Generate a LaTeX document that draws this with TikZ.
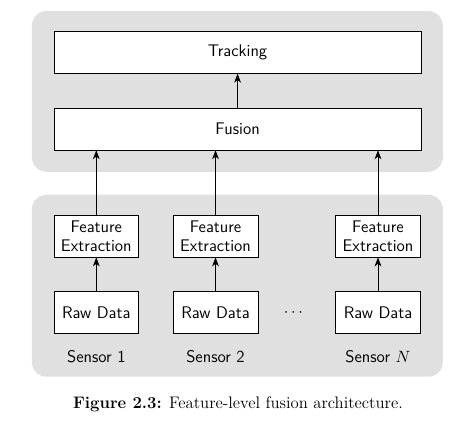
\documentclass[tikz,border=0pt]{standalone}
\usepackage{amsmath}
\usetikzlibrary{arrows.meta, positioning, calc}

\begin{document}
\begin{tikzpicture}[font=\sffamily\fontsize{11.3}{13}\selectfont, node distance=0.8cm,
    block/.style={draw, fill=white, minimum height=0.99cm, inner sep=2pt, align=center},
    wideblock/.style={block, minimum width=8.65cm},
    smallblock/.style={block, minimum width=2cm},
    panel/.style={fill=black!12, rounded corners=0.35cm},
    flow/.style={-{Stealth[length=6pt, width=4.5pt, inset=1.8pt]}}]
\useasboundingbox (0,0) rectangle (11.22,9.92);

% Grey panels
\fill[panel] (0.75,5.87) rectangle (10.44,9.66);
\fill[panel] (0.75,1.04) rectangle (10.44,5.33);

% Sensor columns
\node[smallblock] (raw1) at (2.27,2.55) {Raw Data};
\node[smallblock] (raw2) at (5.08,2.55) {Raw Data};
\node[smallblock] (rawN) at (8.91,2.55) {Raw Data};
\node (dots) at (6.95,2.55) {$\cdots$};

\node[smallblock, above=of raw1] (feat1) {Feature\\Extraction};
\node[smallblock, above=of raw2] (feat2) {Feature\\Extraction};
\node[smallblock, above=of rawN] (featN) {Feature\\Extraction};

\node (sens1) at (2.27,1.51) {Sensor 1};
\node (sens2) at (5.08,1.51) {Sensor 2};
\node (sensN) at (8.91,1.51) {Sensor $N$};

% Fusion and tracking
\node[wideblock] (fusion) at (5.60,6.88) {Fusion};
\node[wideblock, above=of fusion] (tracking) {Tracking};

% Arrows
\foreach \s in {1,2,N} {
    \draw[flow] (raw\s) -- (feat\s);
    \draw[flow] (feat\s) -- (feat\s |- fusion.south);
}
\draw[flow] (fusion) -- (tracking);

\node[font=\rmfamily\fontsize{11.2}{13}\selectfont] (caption) at (5.61,0.38) {\textbf{Figure 2.3:} Feature-level fusion architecture.};
\end{tikzpicture}
\end{document}
